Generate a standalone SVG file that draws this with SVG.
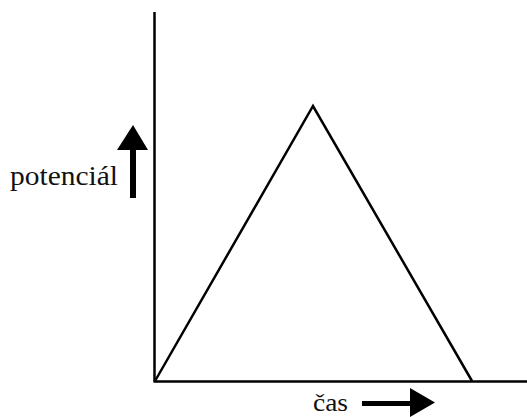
<svg xmlns="http://www.w3.org/2000/svg" width="527" height="417" viewBox="0 0 527 417">
<style>
.ln{stroke:#000;stroke-width:2.5;fill:none}
.lbl{font-family:"Liberation Serif","DejaVu Serif",serif;fill:#111}
.ar{fill:#000}
</style>
<rect width="527" height="417" fill="#fff"/>
<g id="axes">
<line class="ln" x1="154.5" y1="12" x2="154.5" y2="381.5"/>
<line class="ln" x1="153.5" y1="381.5" x2="527" y2="381.5"/>
</g>
<g id="triangle">
<polyline class="ln" points="155,381 313,106 472,381" stroke-linejoin="miter"/>
</g>
<g id="y-label">
<text class="lbl" x="10" y="185" font-size="28" textLength="108" lengthAdjust="spacingAndGlyphs">potenciál</text>
<polygon class="ar" points="133,125 148,150 136,150 136,198 130,198 130,150 117,150"/>
</g>
<g id="x-label">
<text class="lbl" x="313" y="411" font-size="25" textLength="35" lengthAdjust="spacingAndGlyphs">čas</text>
<polygon class="ar" points="435,402.5 410,388 410,401 362,401 362,406 410,406 410,417"/>
</g>
</svg>
